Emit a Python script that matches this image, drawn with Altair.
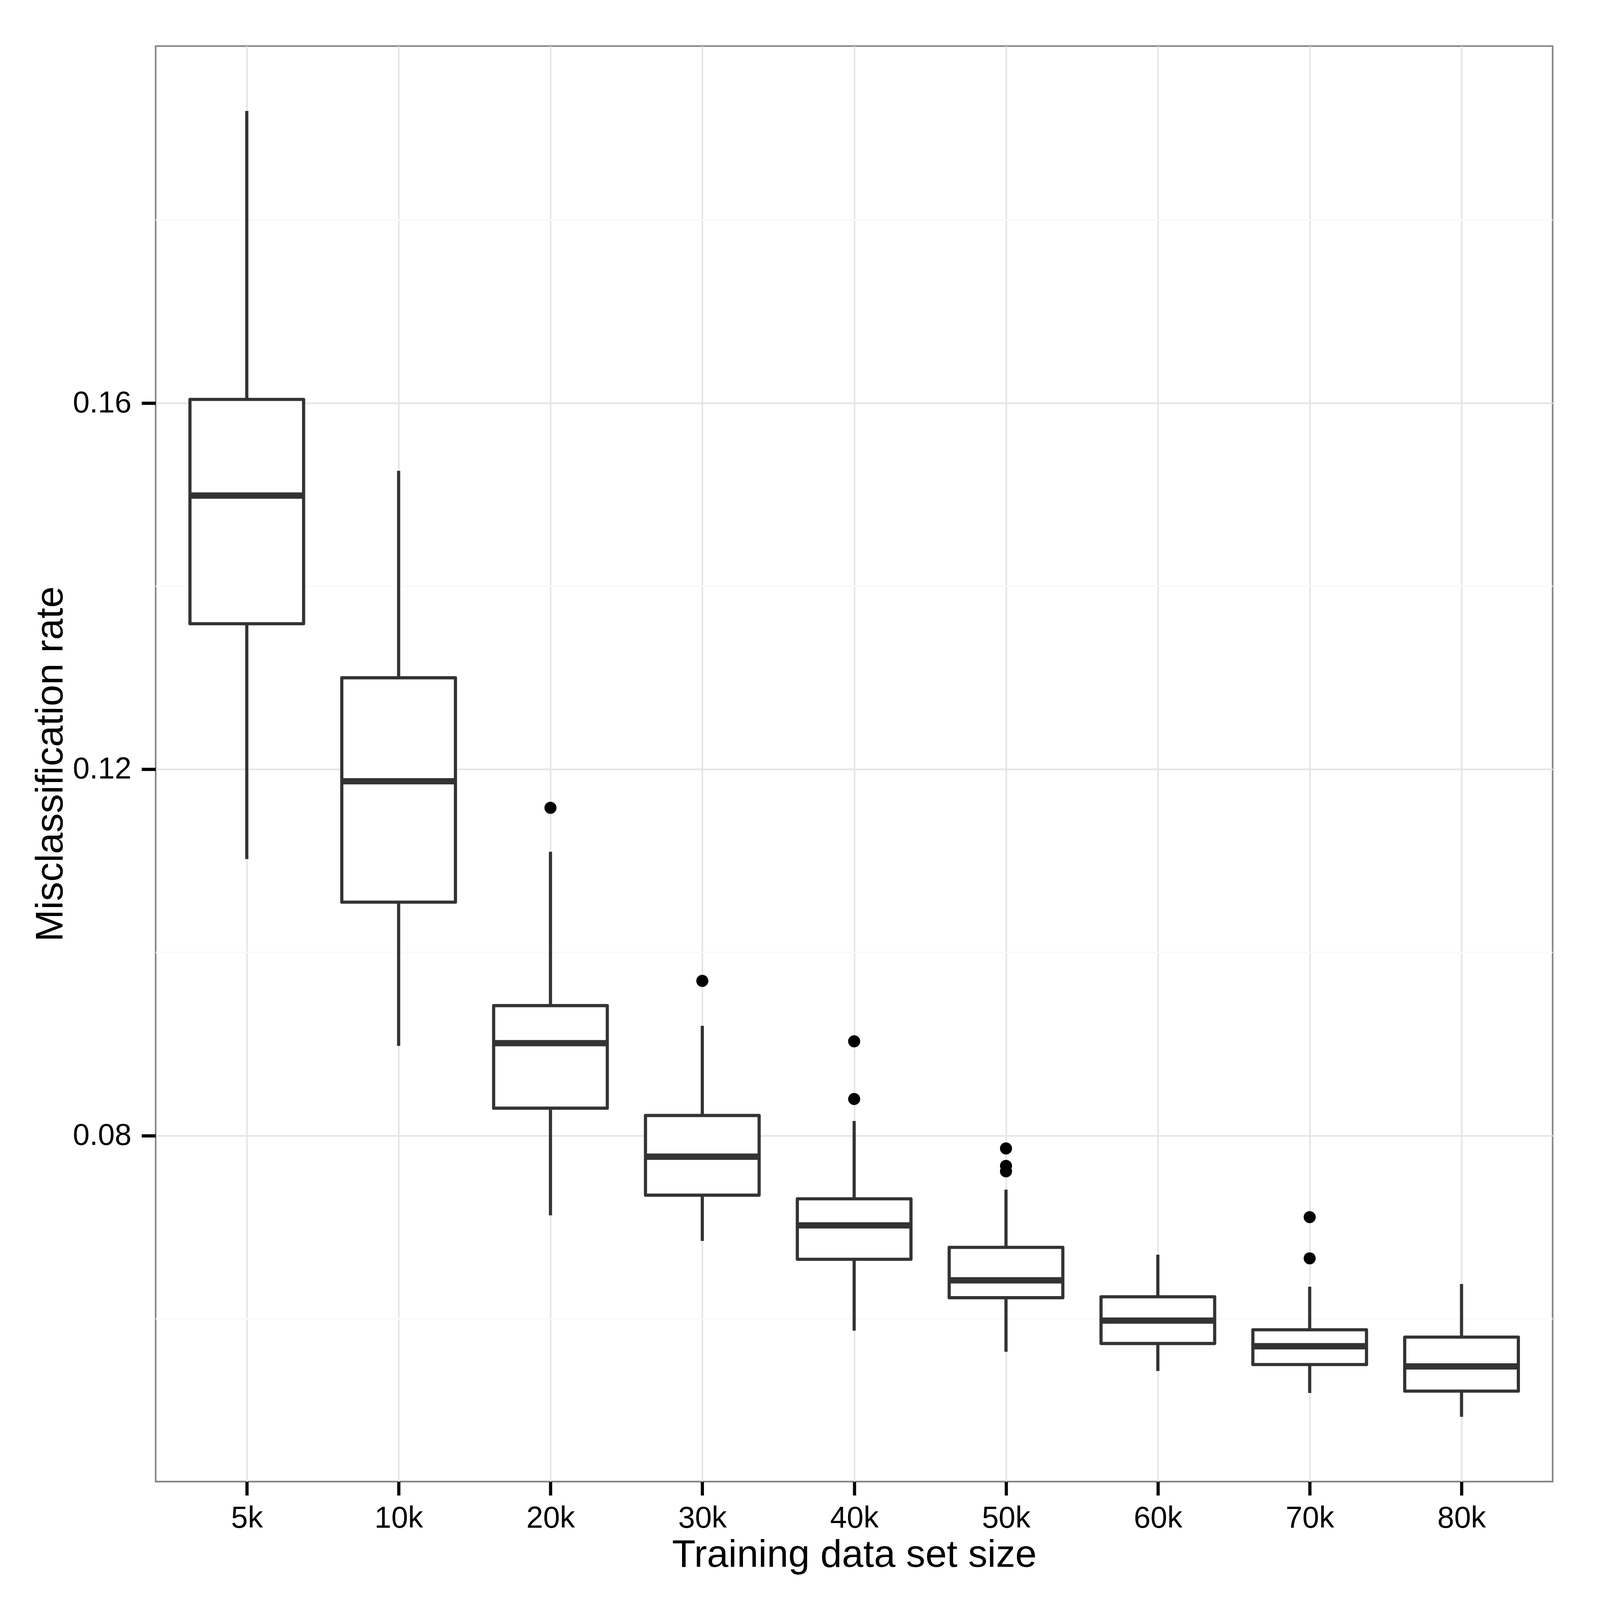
import altair as alt
import pandas as pd

# ---- data ----
sizes = ["5k", "10k", "20k", "30k", "40k", "50k", "60k", "70k", "80k"]
whisker_low = [0.1102, 0.0898, 0.0713, 0.0685, 0.0587, 0.0564, 0.0543, 0.0519, 0.0493]
q1 = [0.1359, 0.1055, 0.0830, 0.0735, 0.0665, 0.0623, 0.0573, 0.0550, 0.0521]
median = [0.1499, 0.1187, 0.0901, 0.0777, 0.0702, 0.0642, 0.0598, 0.0570, 0.0548]
q3 = [0.1604, 0.1300, 0.0942, 0.0822, 0.0731, 0.0678, 0.0624, 0.0588, 0.0580]
whisker_high = [0.1919, 0.1526, 0.1110, 0.0920, 0.0816, 0.0741, 0.0670, 0.0635, 0.0638]

outlier_size = ["20k", "30k", "40k", "40k", "50k", "50k", "50k", "70k", "70k"]
outlier_rate = [0.1158, 0.0969, 0.0903, 0.0840, 0.0786, 0.0767, 0.0761, 0.0711, 0.0666]

major_breaks = [0.08, 0.12, 0.16]
minor_breaks = [0.06, 0.10, 0.14, 0.18]
y_domain = [0.04222, 0.19898]

box_df = pd.DataFrame({
    "size": sizes, "low": whisker_low, "q1": q1,
    "median": median, "q3": q3, "high": whisker_high,
})
out_df = pd.DataFrame({"size": outlier_size, "rate": outlier_rate})
minor_df = pd.DataFrame({"rate": minor_breaks})

W, H = 3663, 3764
FONT = "Liberation Sans"
LINE = "#333333"
LW = 8.3
GW = 4.2

x_axis = alt.Axis(
    title="Training data set size", labelAngle=0, labelFont=FONT, labelFontSize=79,
    labelColor="black", labelBaseline="alphabetic", labelPadding=84, labelOverlap=False,
    tickColor="black", tickWidth=LW, tickSize=36, domain=False,
    grid=True, gridColor="#E5E5E5", gridWidth=GW,
    titleFont=FONT, titleFontSize=101, titleFontWeight="normal", titleColor="black",
    titleX=W / 2, titleY=223, titleBaseline="alphabetic", titleAlign="center",
)
y_axis = alt.Axis(
    title="Misclassification rate", values=major_breaks, format=".2f",
    labelFont=FONT, labelFontSize=79, labelColor="black", labelPadding=27,
    tickColor="black", tickWidth=LW, tickSize=37, domain=False,
    grid=True, gridColor="#E5E5E5", gridWidth=GW,
    titleFont=FONT, titleFontSize=101, titleFontWeight="normal", titleColor="black",
    titleX=-245, titleY=H / 2, titleAngle=270, titleAlign="center",
    titleBaseline="alphabetic",
)

x_scale = alt.Scale(type="point", domain=sizes, padding=0.6)
y_scale = alt.Scale(domain=y_domain, nice=False, zero=False)

def X():
    return alt.X("size:N", scale=x_scale, axis=x_axis, sort=sizes)

minor = alt.Chart(minor_df).mark_rule(color="#FAFAFA", strokeWidth=GW).encode(
    y=alt.Y("rate:Q", scale=y_scale, axis=y_axis)
)

whiskers = alt.Chart(box_df).mark_rule(color=LINE, strokeWidth=LW).encode(
    x=X(),
    y=alt.Y("low:Q", scale=y_scale, axis=y_axis),
    y2="high:Q",
)

boxes = alt.Chart(box_df).mark_bar(
    size=298, fill="white", stroke=LINE, strokeWidth=LW, strokeJoin="round"
).encode(
    x=X(),
    y=alt.Y("q1:Q", scale=y_scale, axis=y_axis),
    y2="q3:Q",
)

medians = alt.Chart(box_df).mark_tick(size=298, thickness=16.5, color=LINE, opacity=1).encode(
    x=X(),
    y=alt.Y("median:Q", scale=y_scale, axis=y_axis),
)

points = alt.Chart(out_df).mark_circle(size=1000, color="black", opacity=1).encode(
    x=X(),
    y=alt.Y("rate:Q", scale=y_scale, axis=y_axis),
)

chart = alt.layer(minor, whiskers, boxes, medians, points).properties(
    width=W, height=H,
    autosize=alt.AutoSizeParams(type="none"),
    padding={"left": 400, "top": 62, "right": 116, "bottom": 353},
    background="white",
).configure_view(stroke="#858585", strokeWidth=4.2)

chart.save("out.html", embed_options={"renderer": "svg", "actions": False})
